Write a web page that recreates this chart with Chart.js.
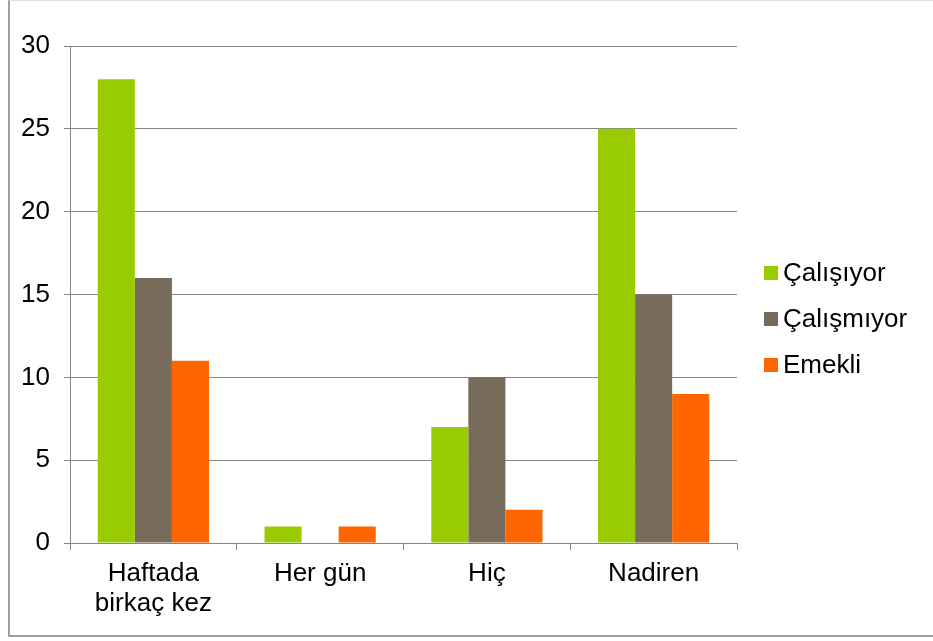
<!DOCTYPE html>
<html>
<head>
<meta charset="utf-8">
<script src="https://cdn.jsdelivr.net/npm/chart.js@4.4.1/dist/chart.umd.min.js"></script>
<style>
html,body{margin:0;padding:0;background:#fff;}
#wrap{width:933px;height:641px;position:relative;}
</style>
</head>
<body>
<div id="wrap"><canvas id="c" width="933" height="641"></canvas></div>
<script>
const categories = [['Haftada','birkaç kez'], 'Her gün', 'Hiç', 'Nadiren'];
const seriesNames = ['Çalışıyor', 'Çalışmıyor', 'Emekli'];
const calisiyor = [28, 1, 7, 25];
const calismiyor = [16, 0, 10, 15];
const emekli = [11, 1, 2, 9];
const colors = ['#99CC00', '#776B5B', '#FF6600'];
const yTicks = [0, 5, 10, 15, 20, 25, 30];

const FONT = "'Liberation Sans', Arial, sans-serif";
const FSIZE = 26;

const frame = {
  id: 'frame',
  beforeDraw(chart) {
    const ctx = chart.ctx;
    ctx.save();
    ctx.fillStyle = '#fff';
    ctx.fillRect(0, 0, chart.width, chart.height);
    ctx.strokeStyle = '#a0a0a0';
    ctx.lineWidth = 2;
    ctx.beginPath();
    ctx.moveTo(9, 0); ctx.lineTo(9, 636); ctx.lineTo(933, 636);
    ctx.stroke();
    ctx.strokeStyle = '#e0e0e0';
    ctx.lineWidth = 1;
    ctx.beginPath();
    ctx.moveTo(9, 0.5); ctx.lineTo(933, 0.5);
    ctx.stroke();
    ctx.restore();
  }
};

const legendPlugin = {
  id: 'customLegend',
  afterDraw(chart) {
    const ctx = chart.ctx;
    ctx.save();
    ctx.font = FSIZE + 'px ' + FONT;
    ctx.textBaseline = 'middle';
    ctx.textAlign = 'left';
    chart.data.datasets.forEach((ds, i) => {
      const cy = 273 + i * 46;
      ctx.fillStyle = ds.backgroundColor;
      ctx.fillRect(764, cy - 7, 14, 14);
      ctx.fillStyle = '#000';
      ctx.fillText(ds.label, 783, cy + 1);
    });
    ctx.restore();
  }
};

const seriesData = [calisiyor, calismiyor, emekli];

new Chart(document.getElementById('c'), {
  type: 'bar',
  data: {
    labels: categories,
    datasets: seriesNames.map((n, i) => ({
      label: n,
      data: seriesData[i],
      backgroundColor: colors[i],
      borderWidth: 0,
      categoryPercentage: 0.667,
      barPercentage: 1.0
    }))
  },
  options: {
    responsive: false,
    animation: false,
    devicePixelRatio: 1,
    layout: { padding: { left: 0, top: 46, right: 196, bottom: 0 } },
    plugins: { legend: { display: false }, tooltip: { enabled: false } },
    scales: {
      y: {
        min: 0, max: 30,
        afterBuildTicks(scale) { scale.ticks = yTicks.map(v => ({ value: v })); },
        afterFit(scale) { scale.width = 70; },
        grid: { color: '#868686', lineWidth: 1, tickLength: 6, drawTicks: true },
        border: { display: true, color: '#868686', width: 1 },
        ticks: { color: '#000', padding: 14, font: { family: FONT, size: FSIZE } }
      },
      x: {
        offset: true,
        afterFit(scale) { scale.height = 98; },
        grid: { offset: true, drawOnChartArea: false, drawTicks: true, tickLength: 7, color: '#868686' },
        border: { display: true, color: '#868686', width: 1 },
        ticks: { color: '#000', padding: 9, maxRotation: 0, autoSkip: false, font: { family: FONT, size: FSIZE, lineHeight: 1.15 } }
      }
    }
  },
  plugins: [frame, legendPlugin]
});
</script>
</body>
</html>
